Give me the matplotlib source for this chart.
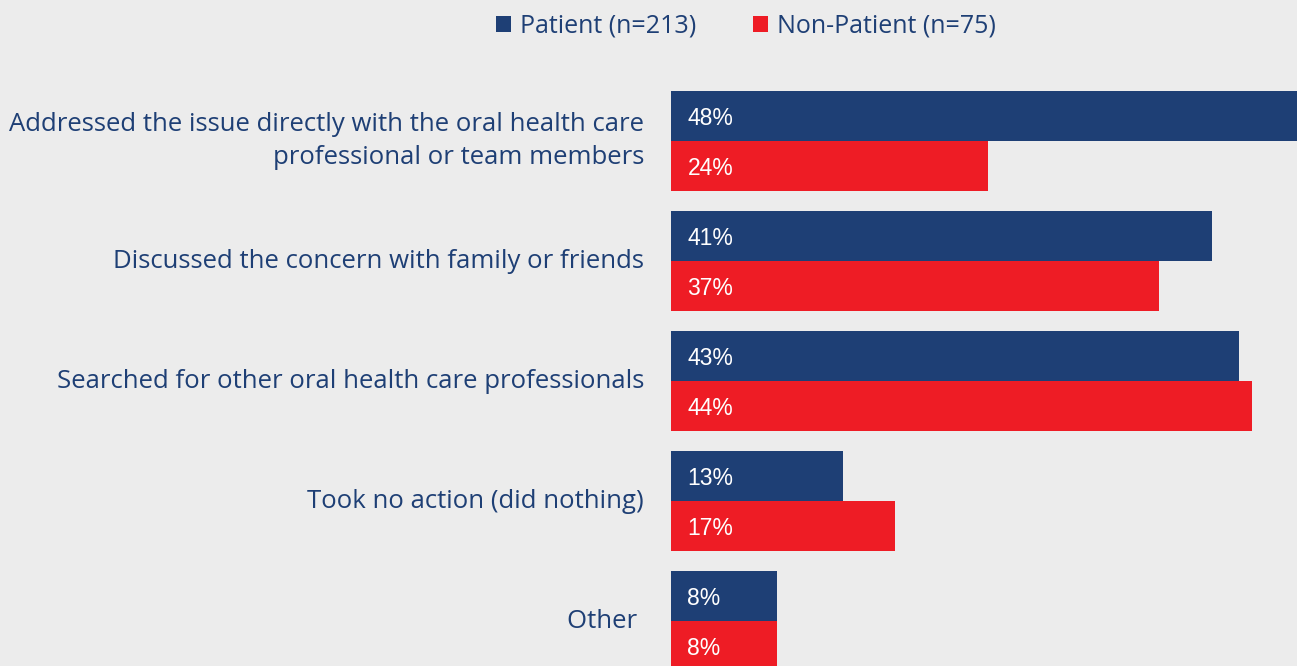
import matplotlib.pyplot as plt
from matplotlib.patches import Patch

# Survey responses: action taken after a concern with care
categories = [
    "Addressed the issue directly with the oral health care\nprofessional or team members",
    "Discussed the concern with family or friends",
    "Searched for other oral health care professionals",
    "Took no action (did nothing)",
    "Other ",
]
patient = [48, 41, 43, 13, 8]
non_patient = [24, 37, 44, 17, 8]
series_labels = ["Patient (n=213)", "Non-Patient (n=75)"]

NAVY = "#1e3f75"
RED = "#ee1c25"
BG = "#ececec"

plt.rcParams['font.family'] = ['Open Sans', 'DejaVu Sans']

fig = plt.figure(figsize=(12.97, 6.66), dpi=100, facecolor=BG)
ax = fig.add_axes([671 / 1297, 0, 1 - 671 / 1297, 1])
ax.set_facecolor(BG)

pitch = 120.0
bar_h = 50 / pitch
y = list(range(len(categories)))

ax.barh([i - bar_h / 2 for i in y], patient, height=bar_h, color=NAVY)
ax.barh([i + bar_h / 2 for i in y], non_patient, height=bar_h, color=RED)

for i, (p, n) in enumerate(zip(patient, non_patient)):
    ax.text(1.25, i - bar_h / 2, f"{p}%", color="white", va="center_baseline", ha="left",
            fontsize=16.5, family="Liberation Sans")
    ax.text(1.25, i + bar_h / 2, f"{n}%", color="white", va="center_baseline", ha="left",
            fontsize=16.5, family="Liberation Sans")

ax.set_xlim(0, (1297 - 671) / 13.2)
ax.set_ylim((666 - 141) / pitch, -141 / pitch)
ax.axis("off")

# category labels sit to the left of the bars
for i, cat in enumerate(categories):
    ax.annotate(cat, xy=(0, i), xycoords="data", xytext=(-27, 0), textcoords="offset pixels",
                ha="right", va="center", color=NAVY, fontsize=18.5, linespacing=1.45,
                annotation_clip=False)

handles = [Patch(facecolor=NAVY), Patch(facecolor=RED)]
fig.legend(handles, series_labels, loc="upper center", bbox_to_anchor=(746 / 1297, 1.013),
           ncol=2, frameon=False, fontsize=18, labelcolor=NAVY,
           handlelength=0.6, handleheight=0.6, handletextpad=0.35, columnspacing=2.3)

fig.savefig("out.png", dpi=100, facecolor=BG)
